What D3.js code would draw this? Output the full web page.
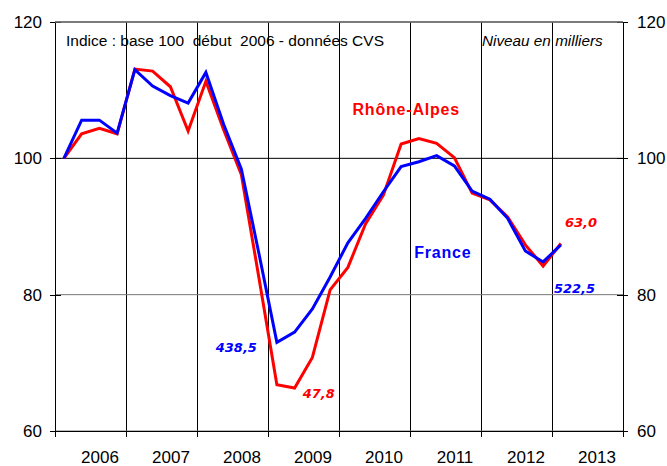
<!DOCTYPE html>
<html lang="fr">
<head>
<meta charset="utf-8">
<title>Emploi intérimaire - Rhône-Alpes / France</title>
<style>
    body { margin: 0; background: #fff; }
    svg { display: block; font-family: "Liberation Sans", Arial, sans-serif; }
    .line { fill: none; stroke-width: 3px; stroke-linejoin: miter; }
    .axis path, .axis line { stroke: #000; shape-rendering: crispEdges; }
    .axis text { font-size: 17px; fill: #000; font-family: "Liberation Sans", Arial, sans-serif; }
    .grid line { stroke: #000; stroke-width: 1px; }
    .grid line.v { shape-rendering: crispEdges; }
    .val { font-family: "DejaVu Sans", Verdana, sans-serif; font-weight: bold; font-style: italic; font-size: 13px; }
    .serie { font-weight: bold; font-size: 16px; letter-spacing: 0.8px; }
</style>
</head>
<body>
<script src="https://d3js.org/d3.v7.min.js"></script>
<script>
// trimestres (moyenne trimestrielle, CVS)
var quarters = ["2006T1","2006T2","2006T3","2006T4",
                "2007T1","2007T2","2007T3","2007T4",
                "2008T1","2008T2","2008T3","2008T4",
                "2009T1","2009T2","2009T3","2009T4",
                "2010T1","2010T2","2010T3","2010T4",
                "2011T1","2011T2","2011T3","2011T4",
                "2012T1","2012T2","2012T3","2012T4",
                "2013T1"];

// indice base 100 début 2006
var france = [100, 105.6, 105.6, 103.7, 113.0, 110.6, 109.2, 108.1,
              112.6, 105.0, 98.4, 85.9, 73.0, 74.5, 77.9, 82.6,
              87.6, 91.2, 95.1, 98.8, 99.5, 100.4, 98.9, 95.2,
              94.0, 91.2, 86.4, 84.8, 87.3];
var rhoneAlpes = [100, 103.6, 104.4, 103.6, 113.1, 112.8, 110.5, 104.0,
                  111.3, 104.2, 97.6, 82.3, 66.8, 66.3, 70.8, 80.7,
                  84.0, 90.4, 94.6, 102.1, 102.9, 102.2, 100.1, 94.9,
                  93.9, 91.4, 87.3, 84.2, 87.5];

var years = [2006, 2007, 2008, 2009, 2010, 2011, 2012, 2013];
var yTicks = [60, 80, 100, 120];

var margin = {top: 22, right: 44, bottom: 35, left: 55},
    width = 667 - margin.left - margin.right,
    height = 466 - margin.top - margin.bottom;

// position of a quarter: middle of the quarter
function qPos(q) {
    return +q.slice(0, 4) + (+q.slice(5) - 0.5) / 4;
}

var svg = d3.select("body").append("svg")
    .attr("width", 667)
    .attr("height", 466)
  .append("g")
    .attr("transform", `translate(${margin.left},${margin.top})`);

var x = d3.scaleLinear().domain([2006, 2014]).range([0, width]);
var y = d3.scaleLinear().domain([60, 120]).range([height, 0]);

// grid
var grid = svg.append("g").attr("class", "grid");
grid.selectAll(".v").data(years.slice(1)).enter().append("line")
    .attr("class", "v")
    .attr("x1", d => x(d)).attr("x2", d => x(d))
    .attr("y1", 0).attr("y2", height);
grid.selectAll(".h").data(yTicks).enter().append("line")
    .attr("class", "h")
    .attr("x1", 0).attr("x2", width)
    .attr("y1", d => y(d)).attr("y2", d => y(d))
    .style("stroke", d => d === 100 ? "#000" : "#777");

// axes
var left = svg.append("g").attr("class", "axis")
    .call(d3.axisLeft(y).tickValues(yTicks).tickSize(5).tickPadding(8).tickSizeOuter(0));
left.selectAll(".tick line").attr("x2", -5).attr("x1", 6);

var right = svg.append("g").attr("class", "axis")
    .attr("transform", `translate(${width},0)`)
    .call(d3.axisRight(y).tickValues(yTicks).tickSize(5).tickPadding(9).tickSizeOuter(0));
right.selectAll(".tick line").attr("x2", 5).attr("x1", -6);

svg.append("g").attr("class", "axis")
    .attr("transform", `translate(0,${height})`)
    .call(d3.axisBottom(x).tickValues(years.concat([2014])).tickSize(6).tickSizeOuter(0).tickFormat(""));

var yearAxis = svg.append("g").attr("class", "axis")
    .attr("transform", `translate(9,${height})`)
    .call(d3.axisBottom(x).tickValues(years.map(d => d + 0.5)).tickSize(0).tickPadding(20)
        .tickFormat(d => Math.floor(d)));
yearAxis.select(".domain").remove();

// top border
svg.append("line")
    .attr("x1", 0).attr("x2", width).attr("y1", 0).attr("y2", 0)
    .style("stroke", "#666").style("stroke-width", 1.5);

// lines
var line = function(values) {
    return d3.line()
        .x((d, i) => x(qPos(quarters[i])))
        .y(d => y(d))(values);
};

svg.append("path").attr("class", "line").attr("d", line(rhoneAlpes)).style("stroke", "#ff0000");
svg.append("path").attr("class", "line").attr("d", line(france)).style("stroke", "#0000ff");

// header texts
svg.append("text")
    .attr("x", 11).attr("y", 24)
    .style("font-size", "15.5px")
    .style("white-space", "pre")
    .attr("xml:space", "preserve")
    .text("Indice : base 100  début  2006 - données CVS");

svg.append("text")
    .attr("x", 427).attr("y", 24)
    .style("font-size", "15.3px")
    .style("font-style", "italic")
    .text("Niveau en milliers");

// series names
svg.append("text").attr("class", "serie")
    .attr("x", x(2010.19)).attr("y", y(106.4))
    .style("fill", "#ff0000")
    .text("Rhône-Alpes");
svg.append("text").attr("class", "serie")
    .attr("x", x(2011.06)).attr("y", y(85.4))
    .style("fill", "#0000ff")
    .text("France");

// levels (milliers)
var last = quarters.length - 1;
svg.append("text").attr("class", "val")
    .attr("x", x(qPos(quarters[12])) - 20).attr("y", y(france[12]) + 10)
    .attr("text-anchor", "end").style("fill", "#0000ff").text("438,5");
svg.append("text").attr("class", "val")
    .attr("x", x(qPos(quarters[13])) + 8).attr("y", y(rhoneAlpes[13]) + 10)
    .style("fill", "#ff0000").text("47,8");
svg.append("text").attr("class", "val")
    .attr("x", x(qPos(quarters[last])) + 4).attr("y", y(rhoneAlpes[last]) - 17)
    .style("fill", "#ff0000").text("63,0");
svg.append("text").attr("class", "val")
    .attr("x", x(qPos(quarters[last])) - 7).attr("y", y(france[last]) + 48)
    .style("fill", "#0000ff").text("522,5");
</script>
</body>
</html>
